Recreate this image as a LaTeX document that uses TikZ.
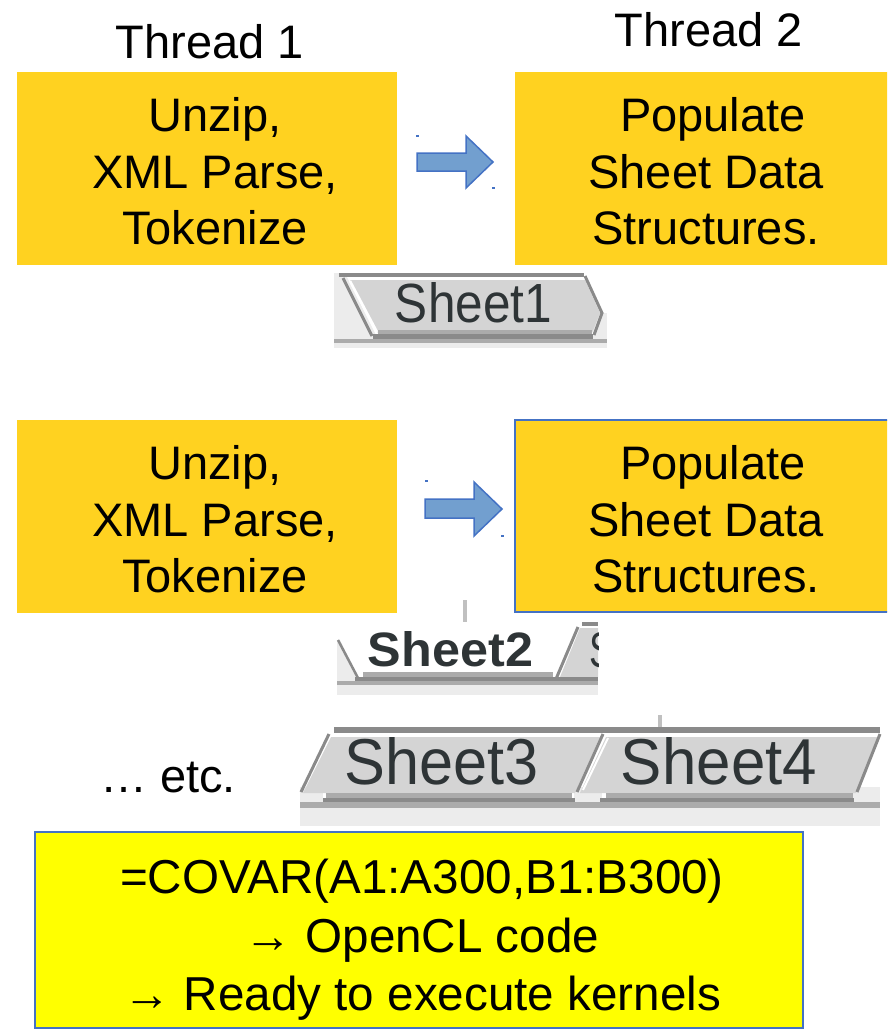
\documentclass[tikz,border=0pt]{standalone}
\usepackage{fontspec}
\setmainfont{Liberation Sans}
\usepackage{graphicx}
\definecolor{gold}{RGB}{255,210,32}
\definecolor{arrowfill}{RGB}{114,159,207}
\definecolor{arrowedge}{RGB}{68,114,196}
\definecolor{tabbody}{RGB}{212,212,212}
\definecolor{tabdark}{RGB}{138,138,138}
\definecolor{tabmid}{RGB}{171,171,171}
\definecolor{tablight}{RGB}{236,236,236}
\definecolor{tabtext}{RGB}{46,52,54}
\definecolor{tickgray}{RGB}{192,192,192}
\definecolor{yel}{RGB}{255,255,0}
\begin{document}
\begin{tikzpicture}[x=1pt,y=-1pt,
  gbox/.style={rectangle, fill=gold, inner sep=0pt},
  lbl/.style={font=\fontsize{47}{56.5}\selectfont, inner sep=0pt, align=center},
  blbl/.style={font=\fontsize{47.6}{58.5}\selectfont, inner sep=0pt, align=center},
  blockarrow/.style={fill=arrowfill, draw=arrowedge, line width=1.5pt, line join=miter},
  tabtxt/.style={inner sep=0pt, text=tabtext},
  dotmark/.style={fill=arrowedge}]
\useasboundingbox (0,0) rectangle (887,1029);
\clip (0,0) rectangle (887,1029);

% ---------- top row ----------
\node[lbl, anchor=base] (th1) at (210,58) {Thread 1};
\node[lbl, anchor=base] (th2) at (709,46) {Thread 2};

\node[gbox, minimum width=380pt, minimum height=193pt] (b1) at (207,168.5) {};
\node[gbox, minimum width=375pt, minimum height=193pt] (b2) at (702.5,168.5) {};
\node[lbl] (t1) at (215,171.5) {Unzip,\\XML Parse,\\Tokenize};
\node[lbl] (t2) at (706,171.5) {\hspace*{14pt}Populate\\Sheet Data\\Structures.};

\draw[blockarrow] (417,153) -- (466,153) -- (466,136) -- (493,162) -- (466,188) -- (466,171) -- (417,171) -- cycle;
\fill[dotmark] (416,135) rectangle (419,137);
\fill[dotmark] (492,187) rectangle (495,189);

% ---------- Sheet1 tab ----------
\fill[tablight] (334,273) -- (345,273) -- (378,339) -- (334,339) -- cycle;
\fill[tablight] (593,313) -- (607,313) -- (607,339) -- (593,339) -- cycle;
\fill[tabbody] (350,280) -- (585,280) -- (600,313) -- (592,333) -- (378,333) -- cycle;
\fill[tabdark] (339,273) rectangle (584,277);
\fill[white] (353,277) rectangle (581,280);
\draw[tabdark, line width=3pt] (343,278) -- (372,336);
\draw[white, line width=2.5pt] (350,281) -- (377,332);
\draw[tabdark, line width=3pt, line join=miter] (585,276) -- (602,313) -- (594,335);
\fill[tabmid] (378,330) rectangle (592,334);
\fill[tabdark] (373,334) rectangle (593,339);
\fill[tabmid] (334,339) rectangle (607,343);
\fill[tablight] (334,343) rectangle (607,348);
\node[tabtxt] (s1) at (473.5,303) {\resizebox{157pt}{40pt}{Sheet1}};

% ---------- middle row ----------
\node[gbox, minimum width=380pt, minimum height=193pt] (b3) at (207,516.5) {};
\node[gbox, draw=arrowedge, line width=2pt, minimum width=375pt, minimum height=192pt] (b4) at (702.5,516) {};
\node[lbl] (t3) at (215,519.5) {Unzip,\\XML Parse,\\Tokenize};
\node[lbl] (t4) at (706,519.5) {\hspace*{14pt}Populate\\Sheet Data\\Structures.};

\draw[blockarrow] (425,499) -- (474,499) -- (474,482) -- (502,509) -- (474,536) -- (474,518) -- (425,518) -- cycle;
\fill[dotmark] (425,480) rectangle (428,482);
\fill[dotmark] (501,535) rectangle (504,537);

% ---------- Sheet2 tab ----------
\fill[tickgray] (463,600) rectangle (467,622);
\fill[tablight] (337,640) -- (340,640) -- (360,681) -- (337,681) -- cycle;
\draw[tabdark, line width=2.5pt] (338,640) -- (358,678);
\fill[tabbody] (560,677) -- (580,628) -- (598,628) -- (598,677) -- cycle;
\fill[tabdark] (582,622) rectangle (598,626);
\draw[tabdark, line width=3pt] (556,679) -- (578,627);
\begin{scope}
  \clip (580,620) rectangle (598,680);
  \node[tabtxt, anchor=west] (s3part) at (589,650.5) {\resizebox{25pt}{35pt}{S}};
\end{scope}
\fill[tabmid] (363,672) rectangle (553,677);
\fill[tabdark] (355,677) rectangle (598,681);
\fill[tabmid] (337,681) rectangle (598,685);
\fill[tablight] (337,685) rectangle (598,695);
\node[tabtxt] (s2) at (450.5,649.5) {\resizebox{165pt}{35pt}{\bfseries Sheet2}};

% ---------- Sheet3 / Sheet4 tabs ----------
\node[lbl, anchor=base west] (etc) at (100,792) {… etc.};
\fill[tickgray] (658,715) rectangle (662,727);
\fill[tablight] (300,787) rectangle (323,803);
\fill[tablight] (574,787) rectangle (602,803);
\fill[tablight] (852,787) rectangle (880,803);
\fill[tabbody] (331,737) -- (600,737) -- (575,793) -- (303,793) -- cycle;
\fill[tabbody] (606,737) -- (880,737) -- (856,793) -- (580,793) -- cycle;
\fill[tabdark] (334,727) rectangle (880,733);
\fill[white] (334,733) rectangle (880,737);
\draw[tabdark, line width=3pt] (329,734) -- (301,792);
\draw[tabdark, line width=3pt] (603,734) -- (577,792);
\draw[white, line width=2pt] (608,738) -- (583,790);
\draw[tabdark, line width=3pt] (880,734) -- (857,792);
\fill[tabmid] (326,793) rectangle (572,798);
\fill[tabmid] (606,793) rectangle (853,798);
\fill[tabdark] (323,798) rectangle (575,802);
\fill[tabdark] (600,798) rectangle (854,802);
\fill[tabmid] (300,802) rectangle (880,808);
\fill[tablight] (300,808) rectangle (880,826);
\node[tabtxt] (s3) at (442,761.5) {\resizebox{194pt}{47pt}{Sheet3}};
\node[tabtxt] (s4) at (719,761.5) {\resizebox{196pt}{47pt}{Sheet4}};

% ---------- bottom box ----------
\node[rectangle, fill=yel, draw=arrowedge, line width=2pt, inner sep=0pt, minimum width=768pt, minimum height=196pt] (b5) at (419,930) {};
\node[blbl] (t5) at (422,940) {=COVAR(A1:A300,B1:B300)\\→ OpenCL code\\→ Ready to execute kernels};
\end{tikzpicture}
\end{document}
